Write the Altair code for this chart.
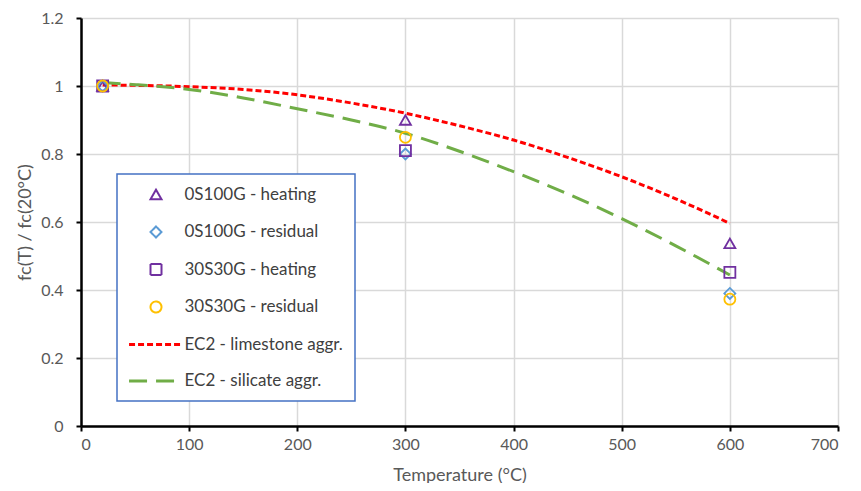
import altair as alt
import pandas as pd

# ---- data ----
series_names = [
    "0S100G - heating",
    "0S100G - residual",
    "30S30G - heating",
    "30S30G - residual",
    "EC2 - limestone aggr.",
    "EC2 - silicate aggr.",
]

test_temps = [20, 300, 600]
s0_heating = [1.0, 0.90, 0.537]
s0_residual = [1.0, 0.80, 0.39]
s30_heating = [1.0, 0.81, 0.452]
s30_residual = [1.0, 0.849, 0.373]

ec2_temps = [20, 50, 100, 150, 200, 250, 300, 350, 400, 450, 500, 550, 600]
ec2_limestone = [1.003, 1.002, 0.998, 0.99, 0.974, 0.95, 0.92, 0.883, 0.841, 0.79, 0.733, 0.668, 0.596]
ec2_silicate = [1.01, 1.004, 0.99, 0.965, 0.933, 0.90, 0.861, 0.808, 0.748, 0.683, 0.61, 0.53, 0.444]

x_ticks = [0, 100, 200, 300, 400, 500, 600, 700]
y_ticks = [0, 0.2, 0.4, 0.6, 0.8, 1.0, 1.2]

# ---- styles ----
colors = ["#7030A0", "#5B9BD5", "#7030A0", "#FFC000", "#FF0000", "#70AD47"]
# legend line sample: two parallel strokes give a thicker line
LINE_SYM = "M-4.9,-0.09H4.9M-4.9,0.09H4.9"
shapes = ["triangle-up", "diamond", "square", "circle", LINE_SYM, LINE_SYM]
dashes = [[1, 0], [1, 0], [1, 0], [1, 0], [6, 3], [18, 9]]
MARK_SIZE = 121

pts_rows = []
for name, vals in zip(series_names[:4], [s0_heating, s0_residual, s30_heating, s30_residual]):
    for t, v in zip(test_temps, vals):
        pts_rows.append({"series": name, "T": t, "ratio": v})
pts = pd.DataFrame(pts_rows)

line_rows = []
for name, vals in zip(series_names[4:], [ec2_limestone, ec2_silicate]):
    for t, v in zip(ec2_temps, vals):
        line_rows.append({"series": name, "T": t, "ratio": v})
lines_df = pd.DataFrame(line_rows)

FONT = "Lato"
GREY = "#595959"

x_enc = alt.X(
    "T:Q",
    scale=alt.Scale(domain=[0, 700], nice=False),
    axis=alt.Axis(values=x_ticks, title="Temperature (°C)", titlePadding=14, labelPadding=5),
)
y_enc = alt.Y(
    "ratio:Q",
    scale=alt.Scale(domain=[0, 1.2], nice=False),
    axis=alt.Axis(values=y_ticks, format="~g", title="fc(T) / fc(20°C)",
                  titlePadding=6, labelPadding=13),
)

color_enc = alt.Color(
    "series:N",
    scale=alt.Scale(domain=series_names, range=colors),
    legend=alt.Legend(title=None),
)

lines = alt.Chart(lines_df).mark_line(strokeWidth=3, interpolate="monotone").encode(
    x=x_enc,
    y=y_enc,
    color=color_enc,
    strokeDash=alt.StrokeDash(
        "series:N",
        scale=alt.Scale(domain=series_names, range=dashes),
        legend=alt.Legend(title=None),
    ),
)

points = alt.Chart(pts).mark_point(filled=False, strokeWidth=1.8, opacity=1, size=MARK_SIZE).encode(
    x=x_enc,
    y=y_enc,
    color=color_enc,
    shape=alt.Shape(
        "series:N",
        scale=alt.Scale(domain=series_names, range=shapes),
        legend=alt.Legend(title=None),
    ),
)

chart = (
    alt.layer(lines, points)
    .properties(
        width=757,
        height=408,
        autosize=alt.AutoSizeParams(type="none"),
        padding={"left": 73, "top": 10, "right": 15, "bottom": 57},
        background="white",
    )
    .configure_view(stroke=None)
    .configure_axis(
        grid=True,
        gridColor="#D9D9D9",
        gridWidth=1.5,
        domainColor="black",
        domainWidth=2.5,
        tickColor="black",
        tickWidth=2,
        tickSize=5,
        labelFont=FONT,
        labelFontSize=16,
        labelColor=GREY,
        titleFont=FONT,
        titleFontSize=18,
        titleFontWeight="normal",
        titleColor=GREY,
    )
    .configure_legend(
        orient="none",
        legendX=36,
        legendY=156,
        strokeColor="#4472C4",
        strokeWidth=1.5,
        fillColor="white",
        padding=12,
        labelFont=FONT,
        labelFontSize=17,
        labelColor="#404040",
        labelOffset=20,
        labelLimit=300,
        rowPadding=18.5,
        symbolSize=MARK_SIZE,
        symbolOffset=18.5,
        symbolStrokeWidth=2,
    )
)

chart.save("out.html", embed_options={"renderer": "svg", "actions": False})
